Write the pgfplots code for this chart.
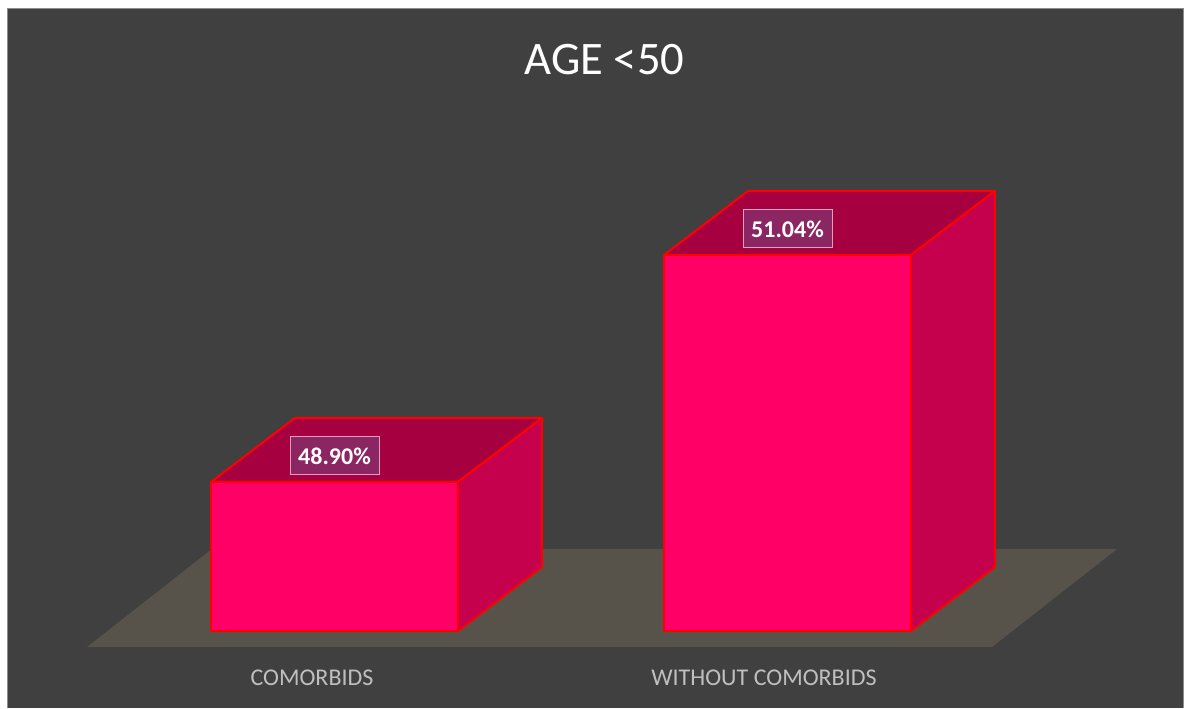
\documentclass[border=0pt]{standalone}
\usepackage{pgfplots}
\pgfplotsset{compat=1.18}
\usepackage{fontspec}
\setmainfont{Carlito}
\definecolor{bg}{RGB}{64,64,64}
\definecolor{floorc}{RGB}{87,83,75}
\definecolor{frontc}{RGB}{255,0,102}
\definecolor{topc}{RGB}{166,0,64}
\definecolor{sidec}{RGB}{197,0,77}
\definecolor{edgec}{RGB}{255,0,0}
\definecolor{lblfill}{RGB}{139,38,98}
\definecolor{lbldraw}{RGB}{222,160,192}
\definecolor{cattext}{RGB}{191,191,191}
\definecolor{borderc}{RGB}{140,140,140}
\begin{document}
\begin{tikzpicture}
\begin{axis}[
  scale only axis,
  width=592.5pt, height=354pt,
  xmin=-0.73841, xmax=1.87748,
  ymin=46.769, ymax=53.444,
  hide axis,
  clip=false,
]
% background
\fill[white] (rel axis cs:0,0) rectangle (rel axis cs:1,1);
\fill[bg] (rel axis cs:0.00675,0) rectangle (rel axis cs:0.9985,0.9873);
\draw[borderc, line width=0.5pt] (rel axis cs:0.00675,0) -- (rel axis cs:0.00675,0.9873) -- (rel axis cs:0.9985,0.9873) -- (rel axis cs:0.9985,0);
% floor
\addplot[fill=floorc, draw=none] coordinates {(-0.5464,47.344) (1.4514,47.344) (1.7274,48.268) (-0.2704,48.268)} -- cycle;
% bar 1 (COMORBIDS, 48.90)
\addplot[fill=frontc, draw=edgec, line width=1pt, line join=round] coordinates {(-0.2726,47.495) (0.2726,47.495) (0.2726,48.90) (-0.2726,48.90)} -- cycle;
\addplot[fill=topc, draw=edgec, line width=1pt, line join=round] coordinates {(-0.2726,48.90) (0.2726,48.90) (0.458,49.5034) (-0.0872,49.5034)} -- cycle;
\addplot[fill=sidec, draw=edgec, line width=1pt, line join=round] coordinates {(0.2726,47.495) (0.458,48.0984) (0.458,49.5034) (0.2726,48.90)} -- cycle;
% bar 2 (WITHOUT COMORBIDS, 51.04)
\addplot[fill=frontc, draw=edgec, line width=1pt, line join=round] coordinates {(0.7274,47.495) (1.2726,47.495) (1.2726,51.04) (0.7274,51.04)} -- cycle;
\addplot[fill=topc, draw=edgec, line width=1pt, line join=round] coordinates {(0.7274,51.04) (1.2726,51.04) (1.458,51.6434) (0.9128,51.6434)} -- cycle;
\addplot[fill=sidec, draw=edgec, line width=1pt, line join=round] coordinates {(1.2726,47.495) (1.458,48.0984) (1.458,51.6434) (1.2726,51.04)} -- cycle;
% data labels
\addplot[draw=none, mark=none, point meta=explicit symbolic,
  nodes near coords, nodes near coords align=center,
  every node near coord/.style={anchor=center, fill=lblfill, draw=lbldraw, line width=0.5pt,
    text=white, font=\bfseries\fontsize{12}{14}\selectfont, minimum width=44.5pt, minimum height=19pt, inner sep=2pt}]
  coordinates {(0,49.145) [48.90\%] (1,51.285) [51.04\%]};
% title
\node[anchor=base, text=white, font=\fontsize{23.3}{28}\selectfont] at (axis cs:0.596,52.746) {AGE <50};
% category labels
\node[anchor=base, text=cattext, font=\fontsize{12}{14}\selectfont] at (axis cs:-0.0497,46.977) {COMORBIDS};
\node[anchor=base, text=cattext, font=\fontsize{12}{14}\selectfont] at (axis cs:0.948,46.977) {WITHOUT COMORBIDS};
\end{axis}
\end{tikzpicture}
\end{document}
